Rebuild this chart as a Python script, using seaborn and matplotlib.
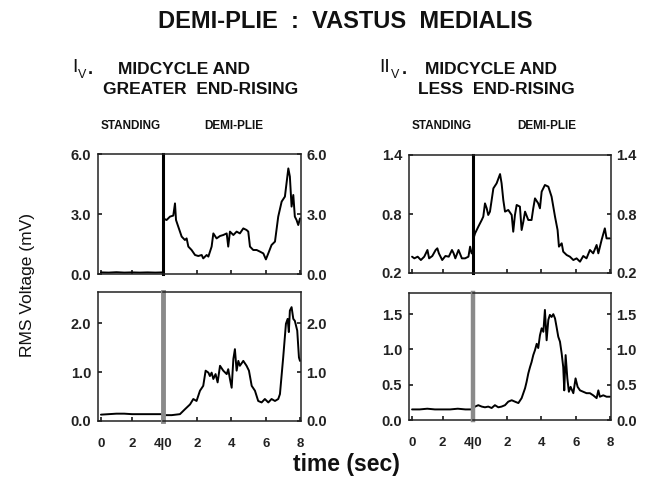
import numpy as np
import pandas as pd
import matplotlib
matplotlib.use("Agg")
import matplotlib.pyplot as plt
import seaborn as sns

sns.set_theme(style="white")
plt.rcParams['font.family'] = ['Liberation Sans', 'DejaVu Sans']

# ---------------- data (time in sec, RMS voltage in mV) ----------------
# Panel I_V, top
iv_top_stand_t = [0.0, 0.5, 1.0, 1.5, 2.0, 2.5, 3.0, 3.5, 4.0]
iv_top_stand_v = [0.08, 0.07, 0.09, 0.07, 0.08, 0.07, 0.08, 0.07, 0.08]
iv_top_demi_t = [0.00, 0.21, 0.41, 0.60, 0.70, 0.76, 0.89, 1.09, 1.28, 1.38, 1.48, 1.67, 1.87, 2.06,
                 2.26, 2.35, 2.55, 2.65, 2.84, 2.94, 3.13, 3.33, 3.52, 3.72, 3.81, 3.91, 4.11, 4.30,
                 4.49, 4.69, 4.88, 4.98, 5.08, 5.27, 5.47, 5.66, 5.86, 6.01, 6.15, 6.34, 6.54, 6.73,
                 6.93, 7.12, 7.32, 7.41, 7.51, 7.61, 7.70, 7.80, 7.90, 8.00]
iv_top_demi_v = [2.78, 2.70, 2.87, 2.92, 3.53, 2.70, 2.37, 1.87, 1.70, 1.78, 1.37, 1.20, 0.95, 0.90,
                 0.95, 0.78, 0.95, 0.87, 1.37, 2.03, 1.78, 1.90, 1.95, 2.03, 1.37, 2.12, 1.95, 2.12,
                 2.03, 2.28, 2.20, 2.12, 1.37, 1.20, 1.20, 1.12, 1.03, 0.73, 1.03, 1.45, 1.62, 2.87,
                 3.62, 3.87, 5.28, 4.87, 3.37, 3.95, 2.87, 2.70, 2.45, 2.78]

# Panel I_V, bottom
iv_bot_stand_t = [0.0, 0.5, 1.0, 1.5, 2.0, 2.5, 3.0, 3.5, 4.0]
iv_bot_stand_v = [0.13, 0.14, 0.15, 0.15, 0.14, 0.14, 0.14, 0.14, 0.14]
iv_bot_demi_t = [0.00, 0.51, 0.99, 1.28, 1.58, 1.77, 1.96, 2.16, 2.35, 2.49, 2.65, 2.74, 2.84, 2.94,
                 3.07, 3.19, 3.33, 3.52, 3.72, 3.81, 3.91, 4.01, 4.11, 4.20, 4.30, 4.40, 4.49, 4.69,
                 4.88, 5.02, 5.18, 5.37, 5.56, 5.76, 5.95, 6.15, 6.34, 6.54, 6.73, 6.83, 7.02, 7.18,
                 7.28, 7.35, 7.41, 7.51, 7.61, 7.70, 7.84, 7.94, 8.00]
iv_bot_demi_v = [0.12, 0.12, 0.14, 0.24, 0.34, 0.45, 0.41, 0.62, 0.72, 1.03, 0.99, 0.92, 0.99, 0.86,
                 0.96, 0.79, 1.13, 1.03, 0.96, 1.06, 0.86, 0.68, 1.27, 1.47, 1.03, 1.23, 1.13, 1.23,
                 1.13, 1.03, 0.72, 0.62, 0.41, 0.38, 0.45, 0.38, 0.45, 0.41, 0.45, 0.55, 1.30, 1.99,
                 2.09, 1.82, 2.26, 2.33, 2.09, 2.05, 1.85, 1.30, 1.23]

# Panel II_V, top
iiv_top_stand_t = [0.00, 0.15, 0.37, 0.58, 0.80, 1.01, 1.12, 1.33, 1.55, 1.66, 1.76, 1.98, 2.19, 2.41,
                   2.62, 2.73, 2.84, 3.05, 3.27, 3.48, 3.70, 3.81, 3.91, 4.00]
iiv_top_stand_v = [0.366, 0.349, 0.366, 0.332, 0.366, 0.434, 0.349, 0.373, 0.434, 0.451, 0.400, 0.332,
                   0.373, 0.366, 0.434, 0.400, 0.349, 0.434, 0.349, 0.349, 0.366, 0.468, 0.400, 0.40]
iiv_top_demi_t = [0.00, 0.12, 0.31, 0.51, 0.60, 0.70, 0.80, 0.89, 0.99, 1.09, 1.19, 1.38, 1.58, 1.67,
                  1.77, 1.87, 2.06, 2.26, 2.35, 2.45, 2.55, 2.74, 2.84, 2.94, 3.04, 3.23, 3.42, 3.52,
                  3.62, 3.81, 3.91, 4.01, 4.20, 4.40, 4.59, 4.79, 4.94, 5.02, 5.18, 5.27, 5.47, 5.66,
                  5.86, 6.05, 6.25, 6.44, 6.63, 6.83, 7.02, 7.22, 7.32, 7.51, 7.70, 7.80, 8.00]
iiv_top_demi_v = [0.535, 0.603, 0.671, 0.739, 0.773, 0.908, 0.858, 0.790, 0.824, 0.942, 1.061, 1.112,
                  1.206, 1.112, 0.942, 0.824, 0.841, 0.790, 0.620, 0.790, 0.892, 0.875, 0.637, 0.722,
                  0.824, 0.739, 0.739, 0.858, 0.959, 0.908, 0.858, 1.027, 1.095, 1.078, 0.976, 0.773,
                  0.637, 0.468, 0.502, 0.417, 0.383, 0.366, 0.332, 0.349, 0.315, 0.373, 0.349, 0.434,
                  0.400, 0.485, 0.400, 0.535, 0.654, 0.552, 0.552]

# Panel II_V, bottom
iiv_bot_stand_t = [0.0, 0.5, 1.0, 1.5, 2.0, 2.5, 3.0, 3.5, 4.0]
iiv_bot_stand_v = [0.15, 0.15, 0.16, 0.15, 0.15, 0.15, 0.16, 0.15, 0.15]
iiv_bot_demi_t = [0.00, 0.12, 0.31, 0.51, 0.70, 0.89, 1.09, 1.28, 1.48, 1.67, 1.87, 2.06, 2.26, 2.45,
                  2.65, 2.84, 2.94, 3.04, 3.13, 3.23, 3.33, 3.42, 3.52, 3.62, 3.72, 3.81, 3.91, 4.01,
                  4.11, 4.20, 4.30, 4.40, 4.49, 4.59, 4.69, 4.79, 4.88, 4.98, 5.08, 5.18, 5.27, 5.33,
                  5.41, 5.51, 5.60, 5.70, 5.86, 5.99, 6.11, 6.25, 6.44, 6.63, 6.83, 7.02, 7.22, 7.32,
                  7.41, 7.61, 7.80, 8.00]
iiv_bot_demi_v = [0.17, 0.19, 0.21, 0.19, 0.18, 0.19, 0.17, 0.21, 0.18, 0.19, 0.21, 0.26, 0.28, 0.26,
                  0.24, 0.31, 0.38, 0.45, 0.54, 0.66, 0.75, 0.82, 0.92, 0.99, 1.08, 1.02, 1.20, 1.30,
                  1.25, 1.56, 1.13, 1.42, 1.49, 1.46, 1.50, 1.44, 1.32, 1.18, 1.11, 0.94, 0.75, 0.42,
                  0.92, 0.59, 0.40, 0.47, 0.38, 0.59, 0.47, 0.42, 0.40, 0.38, 0.38, 0.35, 0.31, 0.42,
                  0.33, 0.35, 0.33, 0.33]

stand_ticks = [0, 2, 4]
stand_ticklabels = ["0", "2", ""]
demi_ticks = [0, 2, 4, 6, 8]
demi_ticklabels = ["4|0", "2", "4", "6", "8"]

iv_top_yticks = [0.0, 3.0, 6.0]
iiv_top_yticks = [0.2, 0.8, 1.4]
iv_bot_yticks = [0.0, 1.0, 2.0]
iiv_bot_yticks = [0.0, 0.5, 1.0, 1.5]

# ---------------- figure ----------------
W, H = 650, 482
fig = plt.figure(figsize=(W / 100, H / 100), dpi=100)
fig.patch.set_facecolor("white")


def fx(px):
    return px / W


def fy(py):
    return 1 - py / H


def make_panel(xl, xd, xr, yt, yb, st_t, st_v, de_t, de_v, ylim, yticks, stand_xmin,
               divider_color, divider_lw, show_x):
    ax_s = fig.add_axes([fx(xl), fy(yb), fx(xd - xl), fy(yt) - fy(yb)])
    ax_d = fig.add_axes([fx(xd), fy(yb), fx(xr - xd), fy(yt) - fy(yb)], sharey=ax_s)
    sns.lineplot(x=st_t, y=st_v, ax=ax_s, color="black", lw=1.4, estimator=None, sort=False)
    sns.lineplot(x=de_t, y=de_v, ax=ax_d, color="black", lw=1.4, estimator=None, sort=False)
    ax_s.set_xlim(stand_xmin, 4.0)
    ax_d.set_xlim(0, 8.06)
    ax_s.set_ylim(*ylim)
    for ax in (ax_s, ax_d):
        ax.set_facecolor("white")
        for sp in ax.spines.values():
            sp.set_color("#222222")
            sp.set_linewidth(1.1)
            sp.set_visible(True)
        ax.set_xlabel("")
        ax.set_ylabel("")
    ax_s.spines["right"].set_visible(False)
    ax_d.spines["left"].set_color(divider_color)
    ax_d.spines["left"].set_linewidth(divider_lw)
    ax_s.set_yticks(yticks)
    ax_s.set_yticklabels([f"{v:.1f}" for v in yticks])
    ax_s.tick_params(axis="y", which="both", left=True, right=False, direction="in", length=3,
                     labelsize=10.5, pad=5, colors="#222222")
    ax_d.tick_params(axis="y", which="both", left=False, right=True, labelleft=False,
                     labelright=True, direction="in", length=3, labelsize=10.5, pad=4,
                     colors="#222222")
    for lab in ax_s.get_yticklabels() + ax_d.get_yticklabels():
        lab.set_fontweight("bold")
    ax_s.set_xticks(stand_ticks)
    ax_d.set_xticks(demi_ticks)
    ax_s.tick_params(axis="x", bottom=True, direction="in", length=3, pad=12, labelsize=9.5,
                     colors="#222222")
    ax_d.tick_params(axis="x", bottom=True, direction="in", length=3, pad=12, labelsize=9.5,
                     colors="#222222")
    if show_x:
        ax_s.set_xticklabels(stand_ticklabels, fontweight="bold")
        ax_d.set_xticklabels(demi_ticklabels, fontweight="bold")
    else:
        ax_s.set_xticklabels([])
        ax_d.set_xticklabels([])
    return ax_s, ax_d


# top-left
make_panel(98, 163, 301, 154, 274, iv_top_stand_t, iv_top_stand_v, iv_top_demi_t, iv_top_demi_v,
           (0, 6.0), iv_top_yticks, -0.19, "black", 2.2, False)
# top-right
make_panel(409, 473, 611, 155, 273, iiv_top_stand_t, iiv_top_stand_v, iiv_top_demi_t, iiv_top_demi_v,
           (0.2, 1.4), iiv_top_yticks, -0.2, "black", 2.2, False)
# bottom-left
make_panel(98, 163, 301, 292, 421, iv_bot_stand_t, iv_bot_stand_v, iv_bot_demi_t, iv_bot_demi_v,
           (0, 2.64), iv_bot_yticks, -0.19, "#8a8a8a", 3.5, True)
# bottom-right
make_panel(409, 473, 611, 293, 420, iiv_bot_stand_t, iiv_bot_stand_v, iiv_bot_demi_t, iiv_bot_demi_v,
           (0, 1.8), iiv_bot_yticks, -0.2, "#8a8a8a", 3.2, True)

# ---------------- texts ----------------
fig.text(fx(345), fy(22), "DEMI-PLIE  :  VASTUS  MEDIALIS", ha="center", va="center",
         fontsize=17, fontweight="bold", color="#111111")

# Panel headings
fig.text(fx(72), fy(67), "I", ha="left", va="center", fontsize=14, color="#111111")
fig.text(fx(78), fy(75), "V", ha="left", va="center", fontsize=9, color="#111111")
fig.text(fx(88), fy(70), ".", ha="left", va="center", fontsize=13, fontweight="bold", color="#111111")
fig.text(fx(118), fy(70), "MIDCYCLE AND", ha="left", va="center", fontsize=12.5,
         fontweight="bold", color="#111111")
fig.text(fx(103), fy(90), "GREATER  END-RISING", ha="left", va="center", fontsize=12.5,
         fontweight="bold", color="#111111")

fig.text(fx(379), fy(67), "II", ha="left", va="center", fontsize=14, color="#111111")
fig.text(fx(391), fy(75), "V", ha="left", va="center", fontsize=9, color="#111111")
fig.text(fx(402), fy(70), ".", ha="left", va="center", fontsize=13, fontweight="bold", color="#111111")
fig.text(fx(425), fy(70), "MIDCYCLE AND", ha="left", va="center", fontsize=12.5,
         fontweight="bold", color="#111111")
fig.text(fx(418), fy(90), "LESS  END-RISING", ha="left", va="center", fontsize=12.5,
         fontweight="bold", color="#111111")

# section labels
for x, s in [(131, "STANDING"), (234, "DEMI-PLIE"), (442, "STANDING"), (547, "DEMI-PLIE")]:
    fig.text(fx(x), fy(126), s, ha="center", va="center", fontsize=8.5, fontweight="bold",
             color="#111111")

fig.text(fx(28), fy(285), "RMS Voltage (mV)", rotation=90, ha="center", va="center",
         fontsize=12.5, color="#111111")
fig.text(fx(346), fy(465), "time (sec)", ha="center", va="center", fontsize=16.5,
         fontweight="bold", color="#111111")

fig.savefig("out.png", dpi=100)
